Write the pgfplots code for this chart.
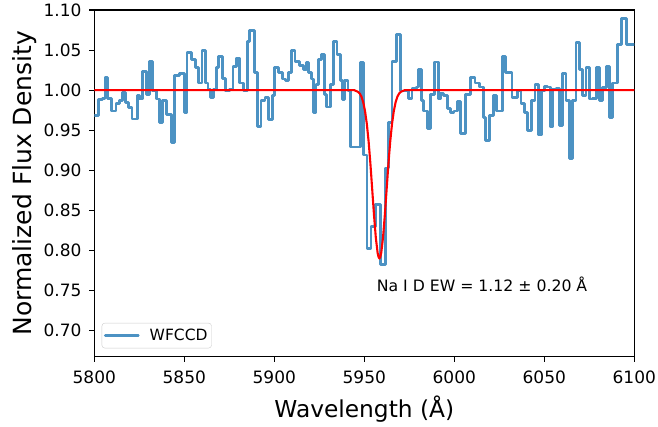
\documentclass[border=0pt]{standalone}
\usepackage{fontspec}
\setmainfont{DejaVu Sans}
\usepackage{pgfplots}
\pgfplotsset{compat=1.18}
\definecolor{mplblue}{RGB}{76,146,195}
\pgfplotstableread{
x y
5800.0 0.968
5802.4 0.988
5804.6 0.990
5806.0 1.016
5807.4 0.990
5809.7 0.974
5812.1 0.983
5814.0 0.987
5815.8 0.997
5817.3 0.985
5819.1 0.978
5821.0 0.964
5823.8 0.993
5825.1 0.989
5827.0 1.023
5828.8 0.995
5830.7 1.036
5832.5 0.999
5834.4 0.989
5836.2 0.960
5838.1 0.987
5840.3 0.970
5842.7 0.935
5844.6 1.018
5847.4 1.021
5850.2 0.972
5851.5 1.047
5853.9 1.038
5856.3 1.028
5858.0 1.009
5859.8 1.049
5861.7 1.009
5863.2 1.001
5864.5 0.991
5866.0 1.001
5867.8 1.028
5869.1 1.042
5871.0 1.015
5872.9 0.999
5875.3 1.001
5877.1 1.030
5879.0 1.040
5880.5 1.009
5882.7 1.000
5885.1 1.061
5886.4 1.074
5889.2 1.022
5890.7 0.955
5892.6 0.987
5894.8 0.991
5896.7 0.963
5898.9 0.993
5900.0 1.028
5902.2 1.022
5904.5 1.014
5906.0 1.012
5907.8 1.022
5909.7 1.049
5911.5 1.036
5913.8 1.031
5916.2 1.026
5917.7 1.034
5919.0 1.022
5920.8 1.014
5921.7 0.972
5923.2 1.007
5924.5 1.038
5926.4 1.044
5927.7 0.995
5929.2 0.979
5931.0 1.007
5932.9 1.061
5934.8 1.044
5936.6 1.012
5937.9 0.988
5939.0 1.012
5940.9 0.999
5942.2 0.929
5947.8 1.034
5949.6 0.919
5951.5 0.802
5953.7 0.830
5956.1 0.857
5958.9 0.783
5961.7 0.903
5963.6 0.960
5965.4 1.036
5967.7 1.069
5970.1 0.999
5974.4 0.990
5976.5 1.002
5978.8 1.004
5979.9 1.026
5981.8 0.987
5983.1 0.974
5985.0 0.952
5986.8 0.995
5989.2 1.035
5991.1 0.989
5992.4 0.996
5994.2 0.993
5996.1 0.977
5998.0 0.972
5999.8 0.974
6001.7 0.986
6003.5 0.946
6006.0 0.995
6009.1 1.016
6011.5 1.009
6013.8 1.004
6016.0 0.966
6017.5 0.937
6019.7 0.968
6021.6 0.993
6023.4 0.974
6026.8 1.042
6028.6 1.022
6032.0 0.991
6035.1 0.999
6037.0 0.983
6038.8 0.972
6040.7 0.950
6042.9 0.987
6044.8 1.007
6046.6 0.944
6048.5 0.999
6050.0 1.005
6051.8 1.004
6053.3 0.954
6054.6 1.001
6056.5 1.002
6058.4 0.956
6060.2 1.021
6062.1 0.987
6063.9 0.915
6065.8 0.987
6067.6 1.059
6069.5 1.026
6071.4 0.993
6073.2 1.028
6075.1 0.989
6076.9 0.990
6078.8 1.028
6080.7 0.987
6082.5 1.003
6084.4 1.030
6086.2 0.966
6088.1 1.009
6090.5 1.057
6092.7 1.089
6095.5 1.057
6100.0 1.057
}\spec
\pgfplotstableread{
x y
5800.0 1.000
5944.4 1.000
5945.4 0.999
5946.4 0.998
5947.4 0.996
5948.4 0.992
5949.4 0.985
5950.4 0.974
5951.4 0.958
5952.4 0.936
5953.4 0.908
5954.4 0.876
5955.4 0.844
5956.4 0.816
5957.4 0.797
5957.9 0.792
5958.4 0.790
5958.9 0.792
5959.4 0.797
5960.4 0.816
5961.4 0.844
5962.4 0.876
5963.4 0.908
5964.4 0.936
5965.4 0.958
5966.4 0.974
5967.4 0.985
5968.4 0.992
5969.4 0.996
5970.4 0.998
5971.4 0.999
5972.4 1.000
6100.0 1.000
}\fit
\begin{document}
\begin{tikzpicture}
\path[use as bounding box] (-94.3pt,-70.3pt) rectangle (563.7pt,356.7pt);
\begin{axis}[
  scale only axis, width=540pt, height=346.7pt,
  xmin=5800, xmax=6100, ymin=0.6675, ymax=1.10,
  xtick={5800,5850,5900,5950,6000,6050,6100},
  xticklabels={5800,5850,5900,5950,6000,6050,6100},
  ytick={0.70,0.75,0.80,0.85,0.90,0.95,1.00,1.05,1.10},
  yticklabels={0.70,0.75,0.80,0.85,0.90,0.95,1.00,1.05,1.10},
  tick pos=left, tick align=outside, major tick length=4.9pt,
  major tick style={black, line width=1.1pt},
  axis line style={line width=1.1pt},
  ticklabel style={font=\fontsize{17}{20}\selectfont, text=black},
  yticklabel style={inner sep=0pt, xshift=-7.7pt},
  xticklabel style={inner sep=0pt, yshift=-9.4pt},
  xlabel={Wavelength (Å)}, ylabel={Normalized Flux Density},
  xlabel style={at={(axis description cs:0.5,-0.1748)}, anchor=base,
    font=\fontsize{23.3}{28}\selectfont, text=black},
  ylabel style={at={(axis description cs:-0.1172,0.5)}, anchor=base,
    font=\fontsize{25}{30}\selectfont, text=black},
  legend image code/.code={\draw[#1] (0pt,0pt) -- (33pt,0pt);},
  legend style={at={(axis description cs:0,0)}, anchor=south west,
    xshift=7.4pt, yshift=8.4pt, draw=black!20, rounded corners=3pt,
    fill=white, font=\fontsize{15.5}{18}\selectfont, text=black,
    inner xsep=2pt, inner ysep=4pt, nodes={inner sep=2pt},
    /tikz/column sep=8pt},
]
\addplot[const plot mark left, mplblue, line width=2.8pt, line join=round, line cap=round] table[x=x,y=y] {\spec};
\addlegendentry{WFCCD\hspace{5pt}}
\addplot[red, line width=2.1pt, forget plot, line join=round] table[x=x,y=y] {\fit};
\node[anchor=base west, font=\fontsize{15.7}{18}\selectfont, text=black] at (axis cs:5955.0,0.7486) {Na I D EW = 1.12 ± 0.20 Å};
\end{axis}
\end{tikzpicture}
\end{document}
